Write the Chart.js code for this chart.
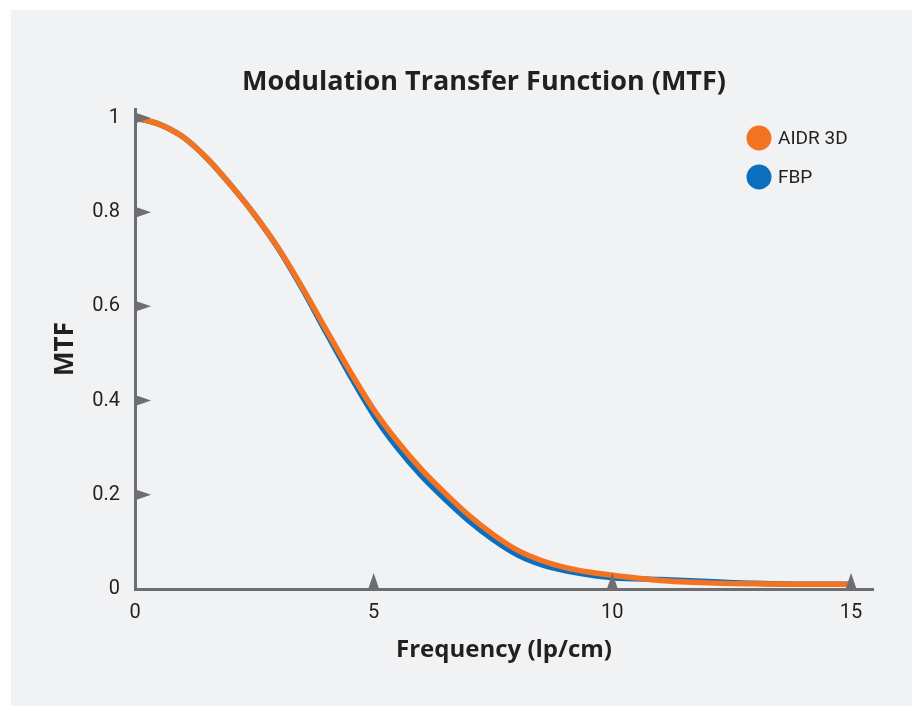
<!DOCTYPE html>
<html>
<head>
<meta charset="utf-8">
<script src="https://cdn.jsdelivr.net/npm/chart.js@4"></script>
<style>
  html, body { margin: 0; padding: 0; background: #ffffff; overflow: hidden; width: 919px; height: 712px; }
  #panel { position: absolute; left: 11px; top: 10px; width: 901px; height: 696px; background: #f1f2f4; }
  #c { position: absolute; left: 11px; top: 10px; display: block; }
</style>
</head>
<body>
<div id="panel"></div>
<canvas id="c" width="946" height="696"></canvas>
<script>
// ---- data ----
const frequencies = [0, 0.5, 1, 1.5, 2, 2.5, 3, 3.5, 4, 4.5, 5, 5.5, 6, 6.5, 7, 7.5, 8, 8.5, 9, 9.5, 10, 11, 12, 13, 14, 15];
const mtfAIDR3D = [1.0, 0.987, 0.960, 0.915, 0.858, 0.795, 0.724, 0.641, 0.551, 0.463, 0.381, 0.313, 0.254, 0.203, 0.156, 0.116, 0.083, 0.061, 0.046, 0.036, 0.029, 0.018, 0.013, 0.011, 0.010, 0.010];
const mtfFBP    = [1.0, 0.987, 0.960, 0.915, 0.858, 0.795, 0.723, 0.638, 0.545, 0.454, 0.369, 0.299, 0.240, 0.190, 0.144, 0.105, 0.073, 0.052, 0.039, 0.030, 0.024, 0.020, 0.016, 0.012, 0.010, 0.010];
const seriesLabels = ['AIDR 3D', 'FBP'];
const xTickValues = [0, 5, 10, 15];
const yTickValues = [0, 0.2, 0.4, 0.6, 0.8, 1];
const yTickLabels = ['0', '0.2', '0.4', '0.6', '0.8', '1'];

const ORANGE = '#f47321';
const BLUE = '#0a6fbd';
const AXIS = '#6d6e71';
const TEXT = '#231f20';
const NARROW = 'Roboto, "Noto Sans", sans-serif';
const BOLD = '"Open Sans", "Noto Sans", sans-serif';

const toPoints = (ys) => frequencies.map((f, i) => ({ x: f, y: ys[i] }));

const tickMarks = {
  id: 'tickMarks',
  afterDatasetsDraw(chart) {
    const ctx = chart.ctx;
    const xs = chart.scales.x, ys = chart.scales.y;
    const ax = xs.left, ay = ys.bottom;
    ctx.save();
    ctx.fillStyle = AXIS;
    yTickValues.forEach(v => {
      if (v === 0) return;
      const py = ys.getPixelForValue(v);
      ctx.beginPath();
      ctx.moveTo(ax, py - 5.5);
      ctx.lineTo(ax + 16, py);
      ctx.lineTo(ax, py + 5.5);
      ctx.closePath();
      ctx.fill();
    });
    xTickValues.forEach(v => {
      if (v === 0) return;
      const px = xs.getPixelForValue(v);
      ctx.beginPath();
      ctx.moveTo(px - 5.5, ay);
      ctx.lineTo(px, ay - 16);
      ctx.lineTo(px + 5.5, ay);
      ctx.closePath();
      ctx.fill();
    });
    ctx.restore();
  },
  afterDraw(chart) {
    const ctx = chart.ctx;
    ctx.save();
    chart.data.datasets.forEach((ds, i) => {
      const cy = 128 + i * 39;
      ctx.beginPath();
      ctx.fillStyle = ds.borderColor;
      ctx.arc(748, cy, 12.5, 0, Math.PI * 2);
      ctx.fill();
      ctx.fillStyle = TEXT;
      ctx.font = '19px ' + NARROW;
      ctx.textBaseline = 'middle';
      ctx.textAlign = 'left';
      ctx.fillText(ds.label, 767, cy + 1);
    });
    ctx.restore();
  }
};

new Chart(document.getElementById('c'), {
  type: 'line',
  data: {
    datasets: [
      { label: seriesLabels[0], data: toPoints(mtfAIDR3D), borderColor: ORANGE, backgroundColor: ORANGE, borderWidth: 5.5, pointRadius: 0, cubicInterpolationMode: 'monotone', order: 0 },
      { label: seriesLabels[1], data: toPoints(mtfFBP), borderColor: BLUE, backgroundColor: BLUE, borderWidth: 5.5, pointRadius: 0, cubicInterpolationMode: 'monotone', order: 1 }
    ]
  },
  options: {
    responsive: false,
    animation: false,
    layout: { padding: { top: 0, right: 0, bottom: 0, left: 0 } },
    plugins: {
      legend: { display: false },
      tooltip: { enabled: false },
      title: {
        display: true,
        text: 'Modulation Transfer Function (MTF)',
        color: TEXT,
        font: { family: BOLD, size: 27, weight: 'bold', lineHeight: 1.2 },
        padding: { top: 56, bottom: 10.6 }
      }
    },
    scales: {
      x: {
        type: 'linear',
        min: 0,
        max: 15.46,
        afterBuildTicks: (s) => { s.ticks = xTickValues.map(v => ({ value: v })); },
        afterFit: (s) => { s.height = 117; },
        grid: { display: false, drawTicks: false },
        border: { display: true, color: AXIS, width: 3 },
        ticks: { color: TEXT, font: { family: NARROW, size: 20 }, padding: 12, maxRotation: 0, callback: (v) => String(v) },
        title: { display: true, text: 'Frequency (lp/cm)', color: TEXT, font: { family: BOLD, size: 24, weight: 'bold', lineHeight: 1.2 }, padding: { top: 0, bottom: 41 } }
      },
      y: {
        type: 'linear',
        min: 0,
        max: 1.019,
        afterBuildTicks: (s) => { s.ticks = yTickValues.map(v => ({ value: v })); },
        afterFit: (s) => { s.width = 124; },
        grid: { display: false, drawTicks: false },
        border: { display: true, color: AXIS, width: 3 },
        ticks: { color: TEXT, font: { family: NARROW, size: 20 }, padding: 15, callback: (v) => yTickLabels[yTickValues.indexOf(v)] ?? '' },
        title: { display: true, text: 'MTF', color: TEXT, font: { family: BOLD, size: 26, weight: 'bold', lineHeight: 1.2 }, padding: { top: 39.4, bottom: 0 } }
      },
      yRight: {
        type: 'linear',
        position: 'right',
        display: true,
        min: 0,
        max: 1,
        afterFit: (s) => { s.width = 84; },
        grid: { display: false, drawTicks: false },
        border: { display: false },
        ticks: { display: false }
      }
    }
  },
  plugins: [tickMarks]
});
</script>
</body>
</html>
